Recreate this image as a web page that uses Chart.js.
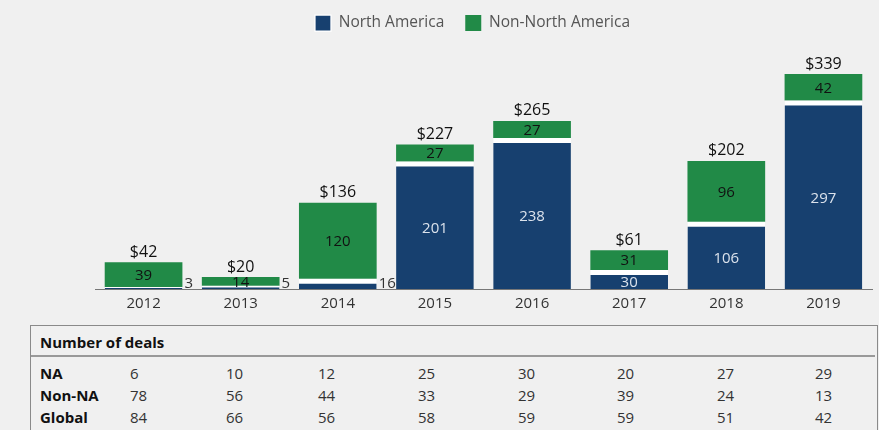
<!DOCTYPE html>
<html>
<head>
<meta charset="utf-8">
<script src="https://cdn.jsdelivr.net/npm/chart.js@4/dist/chart.umd.min.js"></script>
<style>
  html, body { margin: 0; padding: 0; background: #f0f0f0; }
  #wrap { position: relative; width: 879px; height: 430px; overflow: hidden; background: #f0f0f0; }
  #chartBox { position: absolute; left: 0; top: 0; width: 879px; height: 311px; }
  #deals {
    position: absolute; left: 30px; top: 325px; width: 848px; height: 130px;
    border: 1px solid #8a8a8a; box-sizing: border-box;
    font-family: "Open Sans", sans-serif; color: #333;
  }
  #deals table { border-collapse: collapse; table-layout: fixed; }
  #deals th { text-align: left; font-weight: bold; font-size: 15px; color: #111; height: 30px; padding: 3px 0 0 9px; border-bottom: 2px solid #999; box-sizing: border-box; }
  #deals td { font-size: 15px; height: 22px; padding: 0; white-space: nowrap; }
  #deals td.lbl { font-weight: bold; color: #111; padding-left: 9px; }
</style>
</head>
<body>
<div id="wrap">
  <div id="chartBox"><canvas id="dealsChart"></canvas></div>
  <div id="deals"><table id="dealsTable"></table></div>
</div>
<script>
// Chart data
const years = ['2012', '2013', '2014', '2015', '2016', '2017', '2018', '2019'];
const northAmerica = [3, 5, 16, 201, 238, 30, 106, 297];
const nonNorthAmerica = [39, 14, 120, 27, 27, 31, 96, 42];
const totals = [42, 20, 136, 227, 265, 61, 202, 339];

// Number of deals table
const dealRows = ['NA', 'Non-NA', 'Global'];
const dealsNA = [6, 10, 12, 25, 30, 20, 27, 29];
const dealsNonNA = [78, 56, 44, 33, 29, 39, 24, 13];
const dealsGlobal = [84, 66, 56, 58, 59, 59, 51, 42];

const FONT = '"Open Sans", sans-serif';
const BLUE = '#17406f';
const GREEN = '#218a47';
const GAP = 5;

// draws values inside bars and totals on top
const barLabels = {
    id: 'barLabels',
    afterDatasetsDraw(chart) {
        const ctx = chart.ctx;
        const blue = chart.getDatasetMeta(0);
        const green = chart.getDatasetMeta(1);
        ctx.save();
        ctx.font = '15px ' + FONT;

        blue.data.forEach((bar, i) => {
            const p = bar.getProps(['x', 'y', 'base', 'width'], true);
            if (p.base - p.y > 15) {
                const top = p.y + GAP;
                ctx.fillStyle = '#dbe2ec';
                ctx.textAlign = 'center';
                ctx.textBaseline = 'middle';
                ctx.fillText(northAmerica[i], p.x, (top + p.base) / 2 + 1);
            } else {
                ctx.fillStyle = '#333';
                ctx.textAlign = 'left';
                ctx.textBaseline = 'bottom';
                ctx.fillText(northAmerica[i], p.x + p.width / 2 + 2, p.base + 2);
            }
        });

        green.data.forEach((bar, i) => {
            const p = bar.getProps(['x', 'y', 'base'], true);
            ctx.fillStyle = '#111';
            ctx.textAlign = 'center';
            ctx.textBaseline = 'middle';
            ctx.font = '15px ' + FONT;
            ctx.fillText(nonNorthAmerica[i], p.x, (p.y + p.base) / 2 + 1);

            ctx.textBaseline = 'bottom';
            ctx.font = '16px ' + FONT;
            ctx.fillText('$' + totals[i], p.x, p.y - 2);
        });
        ctx.restore();
    }
};

const ctx = document.getElementById('dealsChart').getContext('2d');
new Chart(ctx, {
    type: 'bar',
    data: {
        labels: years,
        datasets: [{
            label: 'North America',
            data: northAmerica,
            backgroundColor: BLUE,
            borderColor: '#ffffff',
            borderWidth: { top: GAP, left: 0, right: 0, bottom: 0 },
            borderSkipped: false
        }, {
            label: 'Non-North America',
            data: nonNorthAmerica,
            backgroundColor: GREEN,
            borderWidth: 0
        }]
    },
    options: {
        responsive: true,
        maintainAspectRatio: false,
        animation: false,
        categoryPercentage: 0.8,
        barPercentage: 1,
        layout: { padding: { left: 73, right: 7, top: -6, bottom: 0 } },
        plugins: {
            legend: {
                position: 'top',
                labels: {
                    boxWidth: 16,
                    boxHeight: 16,
                    padding: 21,
                    color: '#555',
                    font: { family: FONT, size: 15.5 }
                }
            },
            tooltip: { enabled: false }
        },
        scales: {
            x: {
                stacked: true,
                grid: { display: false },
                border: { display: true, color: '#777', width: 1 },
                ticks: { color: '#333', padding: -2, font: { family: FONT, size: 15 } }
            },
            y: {
                stacked: true,
                min: 0,
                max: 391,
                grid: { display: false },
                border: { display: false },
                ticks: { display: false },
                afterFit: scale => { scale.width = 22; }
            }
        }
    },
    plugins: [barLabels]
});

// build the deals table
function buildTable() {
    const table = document.getElementById('dealsTable');
    const colWidths = [99, 96, 92, 100, 100, 99, 100, 98, 60];
    const cg = document.createElement('colgroup');
    colWidths.forEach(w => {
        const c = document.createElement('col');
        c.style.width = w + 'px';
        cg.appendChild(c);
    });
    table.appendChild(cg);

    const head = document.createElement('tr');
    const th = document.createElement('th');
    th.colSpan = colWidths.length;
    th.textContent = 'Number of deals';
    head.appendChild(th);
    table.appendChild(head);

    const rows = [dealsNA, dealsNonNA, dealsGlobal];
    rows.forEach((vals, r) => {
        const tr = document.createElement('tr');
        const lbl = document.createElement('td');
        lbl.className = 'lbl';
        lbl.textContent = dealRows[r];
        tr.appendChild(lbl);
        vals.forEach(v => {
            const td = document.createElement('td');
            td.textContent = v;
            tr.appendChild(td);
        });
        tr.appendChild(document.createElement('td'));
        table.appendChild(tr);
    });
    // first data row sits a little lower under the rule
    table.rows[1].querySelectorAll('td').forEach(td => { td.style.paddingTop = '5px'; });
}
buildTable();
</script>
</body>
</html>
